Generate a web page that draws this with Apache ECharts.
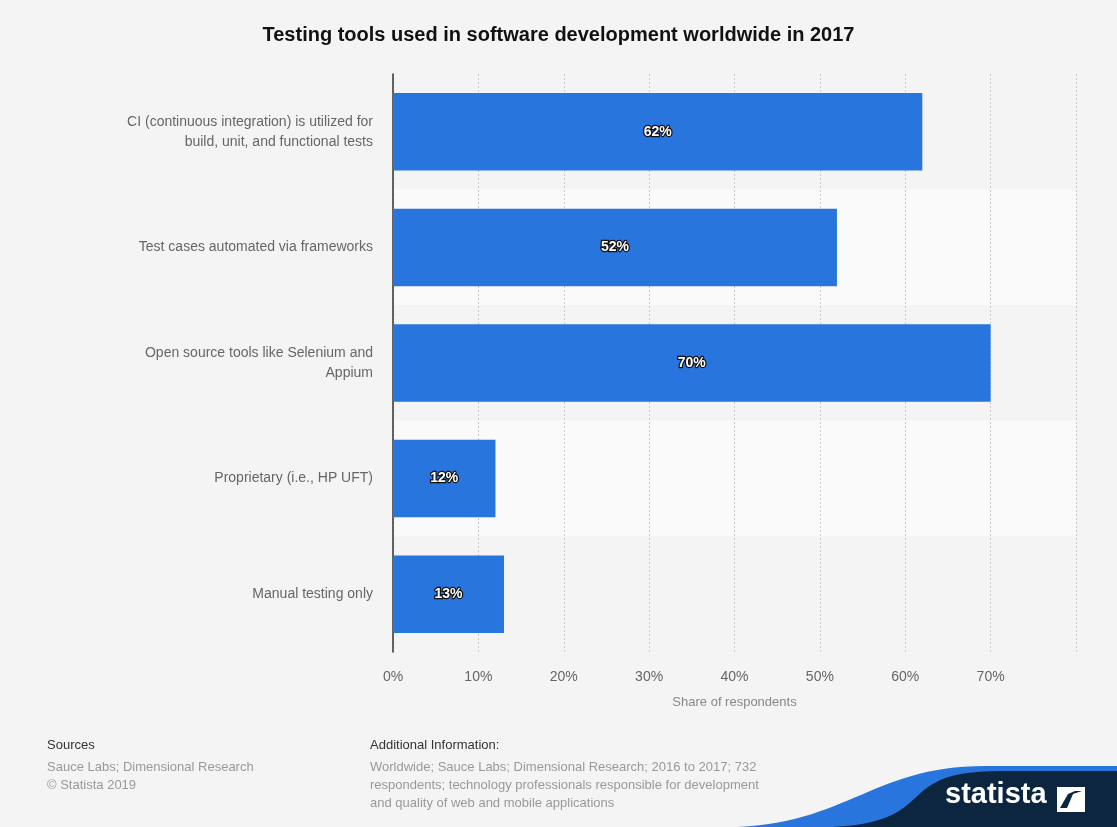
<!DOCTYPE html>
<html>
<head>
<meta charset="utf-8">
<script src="https://cdn.jsdelivr.net/npm/echarts@6/dist/echarts.min.js"></script>
<style>
  html, body { margin: 0; padding: 0; background: #f4f4f4; }
  #main { width: 1117px; height: 827px; }
</style>
</head>
<body>
<div id="main"></div>
<script>
// data
var categories = [
    'CI (continuous integration) is utilized for\nbuild, unit, and functional tests',
    'Test cases automated via frameworks',
    'Open source tools like Selenium and\nAppium',
    'Proprietary (i.e., HP UFT)',
    'Manual testing only'
];
var shares = [62, 52, 70, 12, 13];
var axisTicks = [0, 10, 20, 30, 40, 50, 60, 70, 80];

var chart = echarts.init(document.getElementById('main'));

// points along a cubic bezier, for the logo wave (decoration only)
function bezier(p0, p1, p2, p3, n) {
    var pts = [];
    for (var i = 0; i <= n; i++) {
        var t = i / n, u = 1 - t;
        pts.push([
            u * u * u * p0[0] + 3 * u * u * t * p1[0] + 3 * u * t * t * p2[0] + t * t * t * p3[0],
            u * u * u * p0[1] + 3 * u * u * t * p1[1] + 3 * u * t * t * p2[1] + t * t * t * p3[1]
        ]);
    }
    return pts;
}
function wave(x0, x1, yTop) {
    var pts = bezier([x0, 827], [x0 + 110, 822], [x1 - 110, yTop], [x1, yTop], 30);
    pts.push([1117, yTop], [1117, 827]);
    return pts;
}

var font = 'Liberation Sans, Arial';

var option = {
    backgroundColor: '#f4f4f4',
    title: {
        text: 'Testing tools used in software development worldwide in 2017',
        left: 'center',
        top: 20,
        textStyle: { fontFamily: font, fontSize: 20, fontWeight: 'bold', color: '#111' }
    },
    grid: { left: 393, right: 41, top: 74, bottom: 175 },
    xAxis: {
        type: 'value',
        min: axisTicks[0],
        max: axisTicks[axisTicks.length - 1],
        interval: 10,
        name: 'Share of respondents',
        nameLocation: 'middle',
        nameGap: 44,
        nameTextStyle: { color: '#888', fontSize: 13, fontFamily: font },
        axisLine: { show: false },
        axisTick: { show: false },
        axisLabel: {
            color: '#666', fontSize: 14, margin: 18, fontFamily: font,
            formatter: function (v) { return v >= 80 ? '' : v + '%'; }
        },
        splitLine: { show: true, lineStyle: { color: '#c8c8c8', type: [2, 2], width: 1 } }
    },
    yAxis: {
        type: 'category',
        inverse: true,
        data: categories,
        axisLine: { show: true, lineStyle: { color: '#333', width: 1.5 } },
        axisTick: { show: false },
        axisLabel: {
            color: '#666', fontSize: 14, margin: 20, lineHeight: 20,
            fontFamily: font, align: 'right'
        },
        splitArea: { show: true, areaStyle: { color: ['#f4f4f4', '#fafafa'] } }
    },
    series: [{
        type: 'bar',
        data: shares,
        barWidth: '67%',
        itemStyle: { color: '#2876dd' },
        label: {
            show: true,
            position: 'inside',
            formatter: '{c}%',
            color: '#fff',
            fontSize: 14,
            fontWeight: 'bold',
            fontFamily: font,
            textBorderColor: '#111',
            textBorderWidth: 2.5
        }
    }],
    graphic: [
        { type: 'text', left: 47, top: 739, style: { text: 'Sources', fill: '#333', fontSize: 13, fontFamily: font } },
        { type: 'text', left: 47, top: 758, style: { text: 'Sauce Labs; Dimensional Research\n© Statista 2019', fill: '#999', fontSize: 13, lineHeight: 18, fontFamily: font } },
        { type: 'text', left: 370, top: 739, style: { text: 'Additional Information:', fill: '#333', fontSize: 13, fontFamily: font } },
        { type: 'text', left: 370, top: 758, style: { text: 'Worldwide; Sauce Labs; Dimensional Research; 2016 to 2017; 732\nrespondents; technology professionals responsible for development\nand quality of web and mobile applications', fill: '#999', fontSize: 13, lineHeight: 18, fontFamily: font } },
        // logo wave
        { type: 'polygon', shape: { points: wave(738, 985, 766) }, style: { fill: '#2876dd' } },
        { type: 'polygon', shape: { points: wave(832, 1000, 771) }, style: { fill: '#0c2640' } },
        { type: 'text', x: 945, y: 780, style: { text: 'statista', fill: '#fff', fontSize: 29, fontWeight: 'bold', fontFamily: font } },
        { type: 'rect', shape: { x: 1057, y: 787, width: 28, height: 25 }, style: { fill: '#fff' } },
        { type: 'polygon', shape: { points: [[1060, 808], [1067, 808], [1073, 794], [1082, 791], [1075, 791], [1068, 794]] }, style: { fill: '#0c2640' } }
    ]
};

chart.setOption(option);
</script>
</body>
</html>
